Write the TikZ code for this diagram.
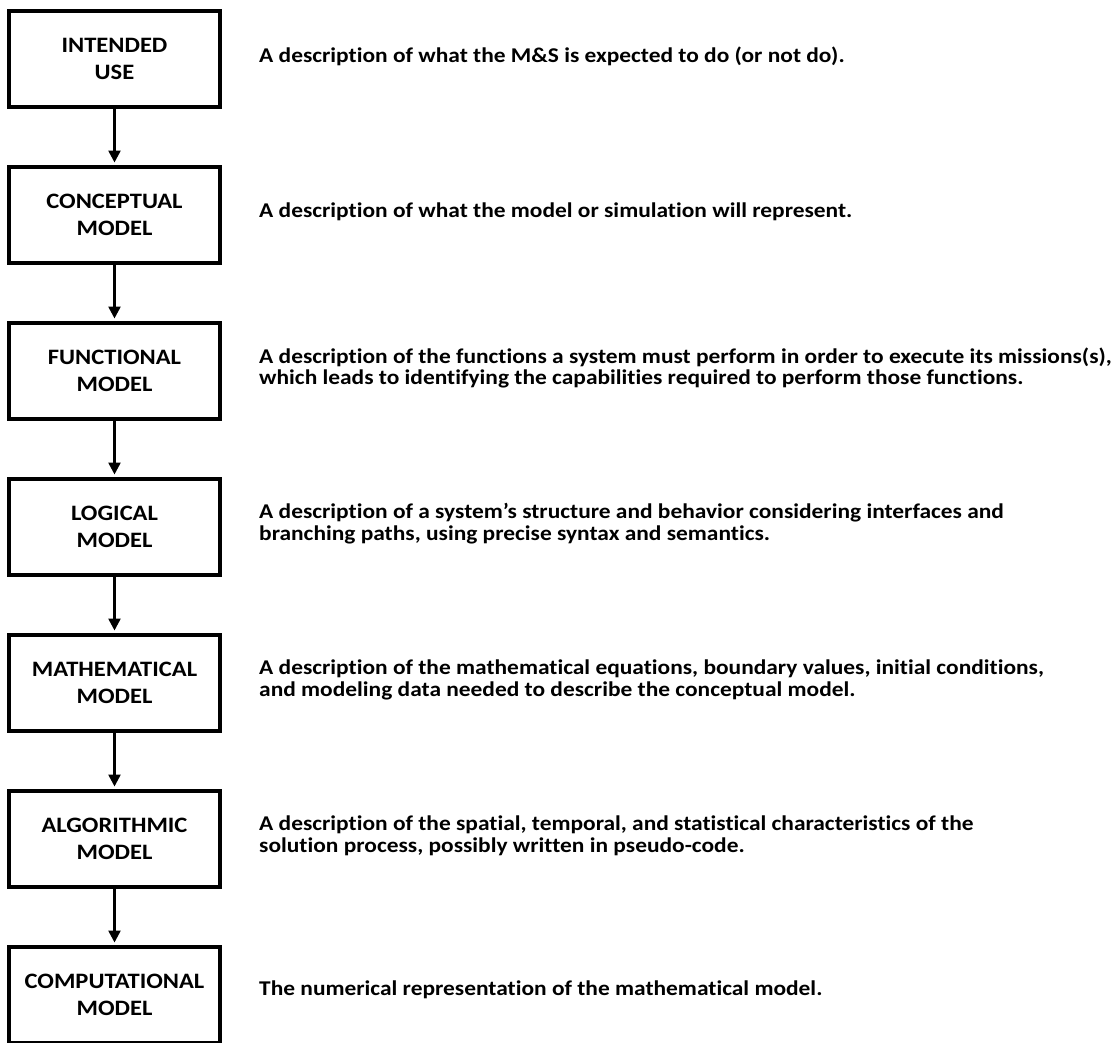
\documentclass[tikz,border=0pt]{standalone}
\usepackage{fontspec}
\setmainfont{Carlito}[FakeStretch=1.115, Ligatures={NoCommon}]
\usetikzlibrary{arrows.meta}
\begin{document}
\begin{tikzpicture}[x=1pt,y=1pt,
  stage/.style={draw=black, line width=4pt, rectangle, minimum width=211pt,
    minimum height=96pt, inner sep=0pt, align=center,
    font=\fontsize{22}{27}\selectfont\bfseries},
  desc/.style={anchor=west, inner sep=0pt, align=left,
    font=\fontsize{21}{21.8}\selectfont\bfseries},
  flow/.style={line width=2.5pt, -{Triangle[width=12pt,length=12pt]}, shorten >=2pt}]
\useasboundingbox (0,0) rectangle (1118,-1042);

\node[stage] (b1) at (114.5,-58.5)  {INTENDED\\USE};
\node[stage] (b2) at (114.5,-214.5) {CONCEPTUAL\\MODEL};
\node[stage] (b3) at (114.5,-370.5) {FUNCTIONAL\\MODEL};
\node[stage] (b4) at (114.5,-526.5) {LOGICAL\\MODEL};
\node[stage] (b5) at (114.5,-682.5) {MATHEMATICAL\\MODEL};
\node[stage] (b6) at (114.5,-838.5) {ALGORITHMIC\\MODEL};
\node[stage] (b7) at (114.5,-994.5) {COMPUTATIONAL\\MODEL};

\node[desc] (d1) at (259,-56) {A description of what the M\&S is expected to do (or not do).};
\node[desc] (d2) at (259,-212) {A description of what the model or simulation will represent.};
\node[desc] (d3) at (259,-368) {A description of the functions a system must perform in order to execute its missions(s),\\which leads to identifying the capabilities required to perform those functions.};
\node[desc] (d4) at (259,-524) {A description of a system’s structure and behavior considering interfaces and\\branching paths, using precise syntax and semantics.};
\node[desc] (d5) at (259,-680) {A description of the mathematical equations, boundary values, initial conditions,\\and modeling data needed to describe the conceptual model.};
\node[desc] (d6) at (259,-836) {A description of the spatial, temporal, and statistical characteristics of the\\solution process, possibly written in pseudo-code.};
\node[desc] (d7) at (259,-990) {The numerical representation of the mathematical model.};

\foreach \a/\b in {b1/b2,b2/b3,b3/b4,b4/b5,b5/b6,b6/b7}
  \draw[flow] (\a.south) -- (\b.north);
\end{tikzpicture}
\end{document}
